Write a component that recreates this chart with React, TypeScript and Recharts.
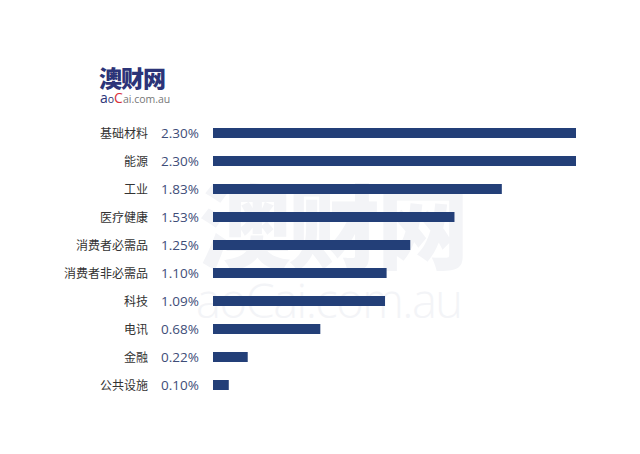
import React from 'react';
import { Bar, BarChart, XAxis, YAxis } from 'recharts';

const sectors = ['基础材料', '能源', '工业', '医疗健康', '消费者必需品', '消费者非必需品', '科技', '电讯', '金融', '公共设施'];
const weights = [2.3, 2.3, 1.83, 1.53, 1.25, 1.1, 1.09, 0.68, 0.22, 0.1];

const data = sectors.map((name, i) => ({ name, value: weights[i] }));

const FONT = '"Noto Sans CJK SC", "Open Sans", sans-serif';

function SectorTick(props: any) {
  const { x, y, payload, index } = props;
  return (
    <g>
      <text x={x - 57} y={y} dy={4.5} textAnchor="end" fontSize={12} fill="#333" fontFamily={FONT}>
        {payload.value}
      </text>
      <text x={x - 44} y={y} dy={4.5} textAnchor="start" fontSize={13.5} fill="#3e4d78" fontFamily='"Open Sans", sans-serif'>
        {weights[index].toFixed(2)}%
      </text>
    </g>
  );
}

export default function App() {
  return (
    <div style={{ position: 'absolute', left: 0, top: 0, width: 640, height: 454, background: '#fff', fontFamily: FONT }}>
      {/* watermark */}
      <div style={{ position: 'absolute', left: 199, top: 176, fontSize: 92, fontWeight: 900, color: '#f3f4f7', lineHeight: 1, letterSpacing: -3 }}>
        澳财网
      </div>
      <div style={{ position: 'absolute', left: 196, top: 277, fontSize: 47, fontWeight: 300, color: '#f3f4f7', lineHeight: 1, letterSpacing: -1.5, fontFamily: '"Open Sans", sans-serif' }}>
        aoCai.com.au
      </div>
      {/* logo */}
      <div style={{ position: 'absolute', left: 99, top: 66, fontSize: 23, fontWeight: 900, color: '#2c3478', lineHeight: 1, letterSpacing: -1 }}>
        澳财网
      </div>
      <div style={{ position: 'absolute', left: 100, top: 91, fontSize: 10.5, color: '#777', lineHeight: 1, fontFamily: '"Open Sans", sans-serif' }}>
        <span style={{ color: '#2c3478', fontSize: 14 }}>a</span>
        <span style={{ color: '#2c3478' }}>o</span>
        <span style={{ color: '#d9323c', fontSize: 14 }}>C</span>
        ai.com.au
      </div>
      <div style={{ position: 'absolute', left: 0, top: 0 }}>
        <BarChart
          width={640}
          height={454}
          data={data}
          layout="vertical"
          margin={{ top: 119, right: 64, bottom: 55, left: 0 }}
          barSize={10}
        >
          <XAxis type="number" domain={[0, 2.3]} hide />
          <YAxis
            type="category"
            dataKey="name"
            width={213}
            axisLine={false}
            tickLine={false}
            tick={<SectorTick />}
            interval={0}
          />
          <Bar dataKey="value" fill="#233f78" isAnimationActive={false} />
        </BarChart>
      </div>
    </div>
  );
}
